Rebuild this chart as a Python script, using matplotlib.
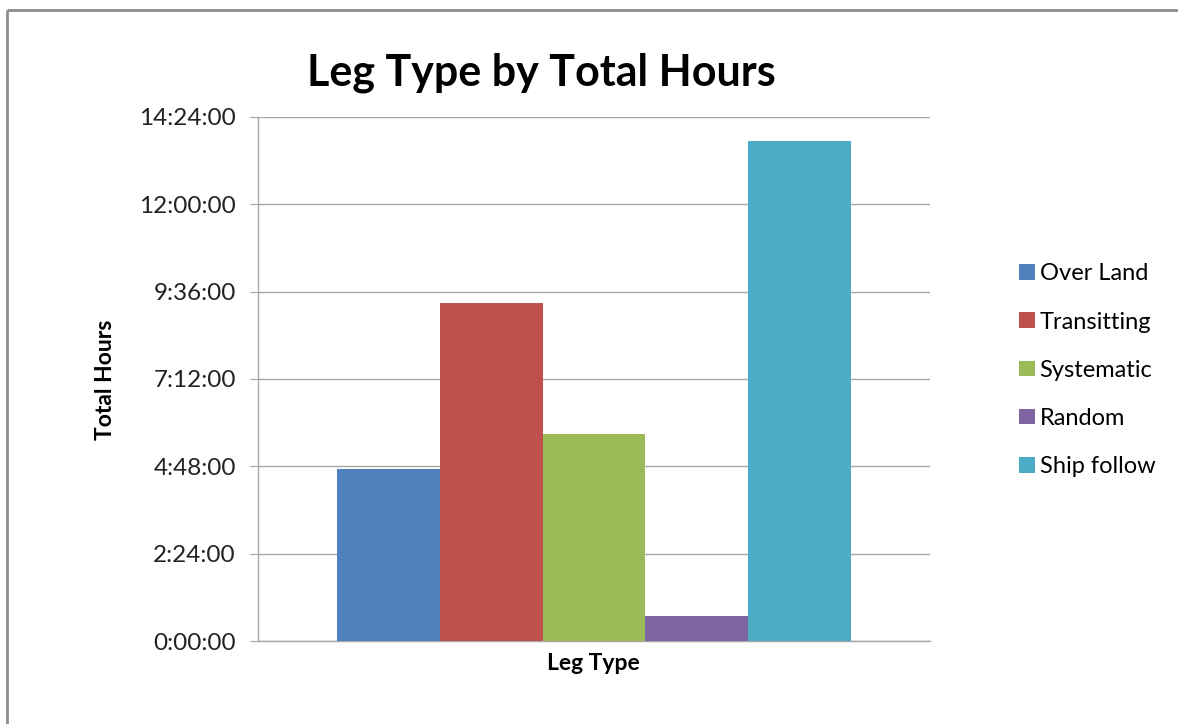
import matplotlib
matplotlib.use("Agg")
import matplotlib.pyplot as plt
from matplotlib.lines import Line2D
from matplotlib.ticker import FixedLocator, FuncFormatter

plt.rcParams['font.family'] = ['Lato', 'DejaVu Sans']

series = ["Over Land", "Transitting", "Systematic", "Random", "Ship follow"]
hours = [4.72, 9.30, 5.68, 0.69, 13.74]
colors = ["#4F81BD", "#C0504D", "#9BBB59", "#8064A2", "#4BACC6"]
ytick_hours = [0, 2.4, 4.8, 7.2, 9.6, 12.0, 14.4]

def fmt(v, pos=None):
    total = int(round(v * 3600))
    h = total // 3600
    m = (total % 3600) // 60
    s = total % 60
    return f"{h}:{m:02d}:{s:02d}"

W, H = 1178, 724
fig = plt.figure(figsize=(W / 100, H / 100), dpi=100)
fig.lines.append(Line2D([7 / W, 7 / W], [0, 1 - 10 / H], transform=fig.transFigure,
                        color="#8c8c8c", linewidth=2, solid_capstyle="butt"))
fig.lines.append(Line2D([7 / W, 1.0], [1 - 10 / H, 1 - 10 / H], transform=fig.transFigure,
                        color="#8c8c8c", linewidth=2, solid_capstyle="butt"))

ax = fig.add_axes([258 / W, (H - 641) / H, 672 / W, 524 / H])
bw = 102.8 / 672
n = len(series)
for i, (s, v, c) in enumerate(zip(series, hours, colors)):
    x = 0.5 + (i - (n - 1) / 2) * bw
    ax.bar(x, v, width=bw, color=c, label=s, edgecolor="none", zorder=3)

ax.set_xlim(0, 1)
ax.set_ylim(0, 14.4)
ax.yaxis.set_major_locator(FixedLocator(ytick_hours))
ax.yaxis.set_major_formatter(FuncFormatter(fmt))
ax.set_xticks([])
ax.grid(axis="y", color="#a6a6a6", linewidth=1, zorder=0)
for sp in ["top", "right"]:
    ax.spines[sp].set_visible(False)
for sp in ["left", "bottom"]:
    ax.spines[sp].set_color("#a6a6a6")
    ax.spines[sp].set_linewidth(1)
ax.tick_params(axis="y", length=6, color="#a6a6a6", labelsize=17.5, pad=10, labelcolor="#222222")

fig.text(541 / W, 1 - 73 / H, "Leg Type by Total Hours", ha="center", va="center",
         fontsize=31, fontweight="bold")
fig.text(593 / W, 1 - 664 / H, "Leg Type", ha="center", va="center", fontsize=16.5, fontweight="bold")
fig.text(105 / W, 1 - 380 / H, "Total Hours", ha="center", va="center", fontsize=16.5,
         fontweight="bold", rotation=90)

leg = fig.legend(loc="upper left", bbox_to_anchor=(1010 / W, 1 - 254 / H), frameon=False,
                 fontsize=17, handlelength=0.65, handleheight=0.65, handletextpad=0.2,
                 labelspacing=1.15, borderaxespad=0)

fig.savefig("out.png", dpi=100)
